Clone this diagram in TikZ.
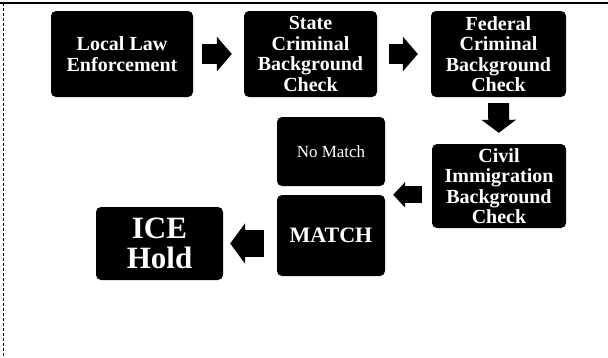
\documentclass[tikz,border=0pt]{standalone}
\usepackage{fontspec}
\setmainfont{Liberation Serif}
\usetikzlibrary{arrows.meta}
\usetikzlibrary{positioning}

\begin{document}
\begin{tikzpicture}[
		x=1pt,
		y=-1pt
		]
		\tikzstyle{stage}=[
			rectangle,
			rounded corners=5pt,
			fill=black,
			text=white,
			font=\bfseries\fontsize{20}{20.5}\selectfont,
			align=center,
			inner sep=0pt
		]
		\tikzstyle{block arrow}=[
			line width=20pt,
			-{Triangle[length=15pt, width=34pt]}
		]
		% Fix the page size and draw the frame.
			\useasboundingbox (0,0) rectangle (608,357);
			\draw[line width=1.5pt] (0,3) -- (608,3);
			\draw[densely dashed, line width=0.8pt] (3,3) -- (3,357);
		% Draw the check stages.
			\node[stage, minimum width=142pt, minimum height=86pt] (local) at (122,54) {Local Law\\Enforcement};
			\node[stage, minimum width=133pt, minimum height=86pt] (state) at (310.5,54) {State\\Criminal\\Background\\Check};
			\node[stage, minimum width=135pt, minimum height=86pt] (federal) at (498.5,54) {Federal\\Criminal\\Background\\Check};
			\node[stage, minimum width=134pt, minimum height=84pt] (civil) at (499,186) {Civil\\Immigration\\Background\\Check};
		% Draw the results.
			\node[stage, minimum width=108pt, minimum height=69pt,
				font=\fontsize{17}{18}\selectfont] (nomatch) at (331,151.5) {No Match};
			\node[stage, minimum width=108pt, minimum height=81pt,
				font=\bfseries\fontsize{22}{22}\selectfont] (match) at (331,235.5) {MATCH};
			\node[stage, minimum width=127pt, minimum height=73pt,
				font=\bfseries\fontsize{31}{30}\selectfont] (ice) at (159.5,243.5) {ICE\\Hold};
		% Connect the stages with block arrows.
			\draw[block arrow, shorten <=9pt, shorten >=12pt] (local) -- (state);
			\draw[block arrow, shorten <=12pt, shorten >=13pt] (state) -- (federal);
			\draw[block arrow, line width=21pt, -{Triangle[length=13pt, width=34pt]},
				shorten <=6pt, shorten >=11pt] (federal) -- (civil);
			\draw[block arrow, line width=17pt, -{Triangle[length=12pt, width=25pt]},
				shorten <=10pt, shorten >=8pt] (civil.west |- match.north east) -- (match.north east);
			\draw[block arrow, line width=27pt, -{Triangle[length=15pt, width=40pt]},
				shorten <=13pt, shorten >=7pt] (match.west |- ice) -- (ice);
	\end{tikzpicture}
\end{document}
